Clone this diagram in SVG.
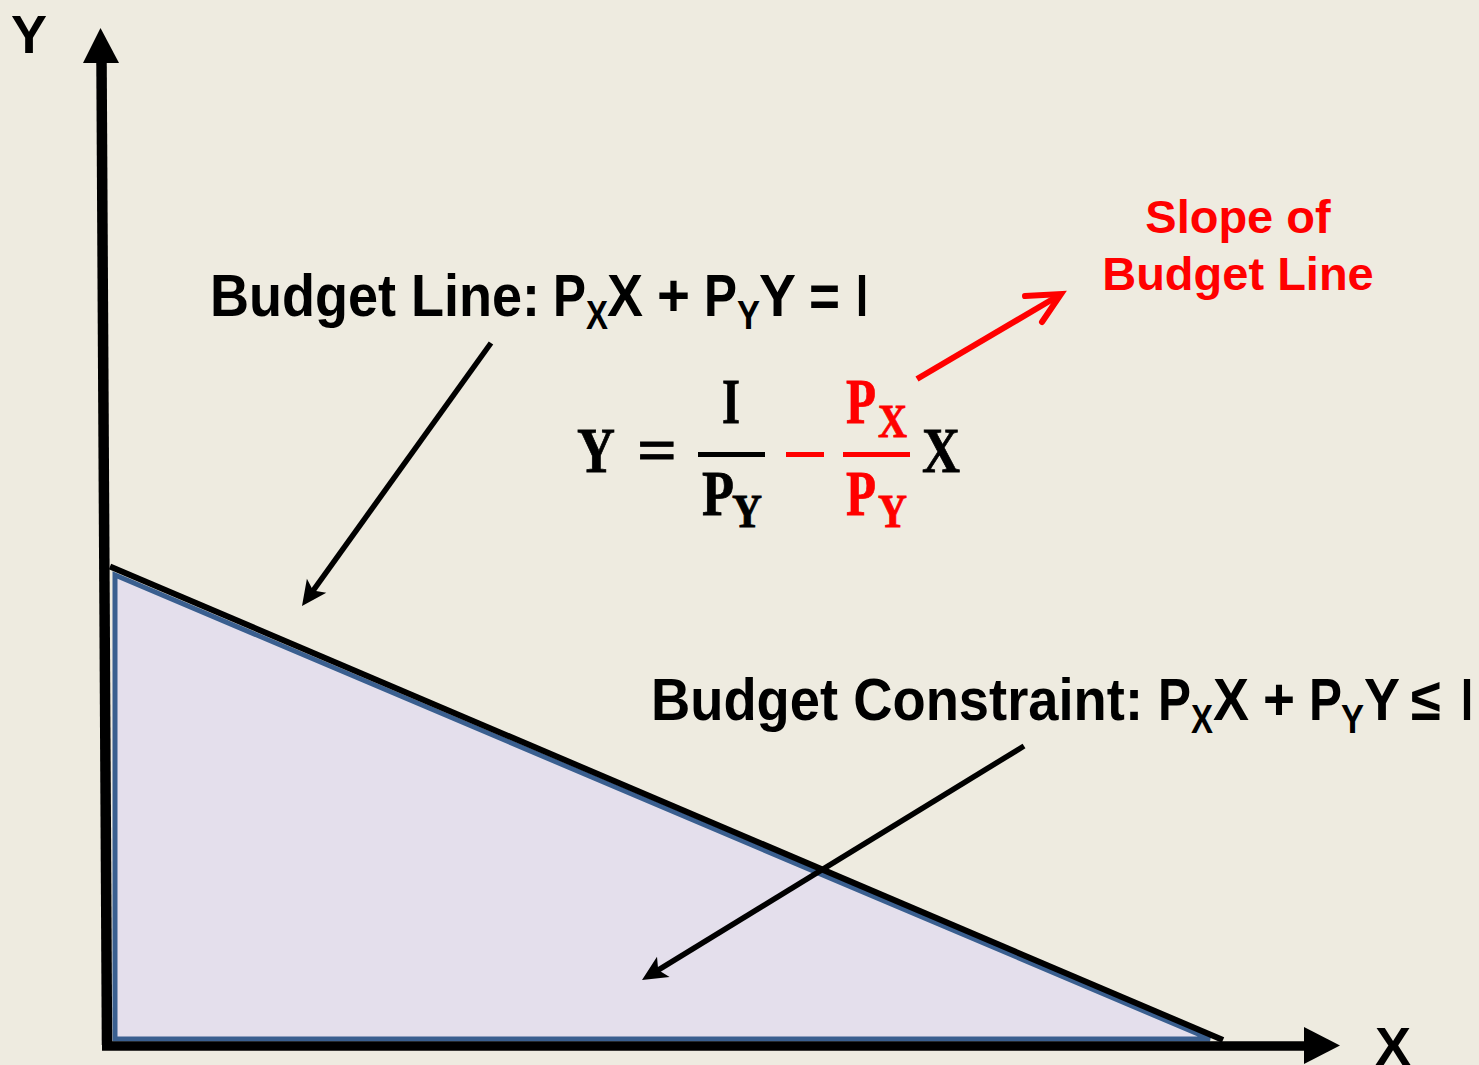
<svg xmlns="http://www.w3.org/2000/svg" width="1479" height="1065" viewBox="0 0 1479 1065">
  <defs>
    <style>
      .lbl { font-family: "Liberation Sans", Arial, sans-serif; font-weight: bold; fill: #000; }
      .lbl.red { fill: #FF0000; }
      .eq { font-family: "Liberation Serif", "Times New Roman", serif; font-weight: bold; fill: #000; stroke: #000; stroke-width: 0.8; }
      .eq.red { fill: #FF0000; stroke: #FF0000; }
      .conn { stroke: #000; stroke-width: 5.5; fill: none; }
      .head { fill: #000; }
    </style>
  </defs>
  <rect x="0" y="0" width="1479" height="1065" fill="#EEEBE0"/>

  <g id="feasible-region">
    <polygon points="115,575 115,1039 1210,1039" fill="#E4DFEC" stroke="#3A5F8F" stroke-width="5" stroke-linejoin="miter"/>
  </g>

  <g id="axes">
    <line x1="101.5" y1="60" x2="107" y2="1045" stroke="#000" stroke-width="10.5"/>
    <polygon points="100.5,28 83,63 119,63" fill="#000"/>
    <line x1="102" y1="1046" x2="1306" y2="1046" stroke="#000" stroke-width="9.5"/>
    <polygon points="1340,1045.5 1304,1027 1304,1064" fill="#000"/>
    <text class="lbl" x="11" y="53" font-size="54">Y</text>
    <text class="lbl" x="1375" y="1065" font-size="54">X</text>
  </g>

  <g id="budget-line">
    <line x1="110" y1="566.5" x2="1223" y2="1040" stroke="#000" stroke-width="6"/>
  </g>

  <g id="connectors">
    <line class="conn" x1="491" y1="343" x2="310.8" y2="593.8"/>
    <polygon class="head" points="302,606 306.9,578.7 313.1,590.6 326.3,592.7"/>
    <line class="conn" x1="1024" y1="746" x2="654.8" y2="972.2"/>
    <polygon class="head" points="642,980 657,956.7 658.2,970.1 669.6,977.1"/>
    <line x1="917" y1="379" x2="1058" y2="296" stroke="#FF0000" stroke-width="6" stroke-linecap="butt"/>
    <path d="M1025,296 L1061,294 L1042,322" fill="none" stroke="#FF0000" stroke-width="6" stroke-linecap="round" stroke-linejoin="miter"/>
  </g>

  <g id="budget-line-label">
    <text class="lbl" font-size="60" x="210" y="316" textLength="330" lengthAdjust="spacingAndGlyphs">Budget Line:</text>
    <text class="lbl" font-size="60" x="553" y="316" textLength="33" lengthAdjust="spacingAndGlyphs">P</text>
    <text class="lbl" font-size="40" x="586" y="329" textLength="22" lengthAdjust="spacingAndGlyphs">X</text>
    <text class="lbl" font-size="60" x="607" y="316" textLength="36" lengthAdjust="spacingAndGlyphs">X</text>
    <text class="lbl" font-size="60" x="657" y="316" textLength="33" lengthAdjust="spacingAndGlyphs">+</text>
    <text class="lbl" font-size="60" x="704" y="316" textLength="33" lengthAdjust="spacingAndGlyphs">P</text>
    <text class="lbl" font-size="40" x="737" y="329" textLength="23" lengthAdjust="spacingAndGlyphs">Y</text>
    <text class="lbl" font-size="60" x="759" y="316" textLength="37" lengthAdjust="spacingAndGlyphs">Y</text>
    <text class="lbl" font-size="60" x="809" y="316" textLength="31" lengthAdjust="spacingAndGlyphs">=</text>
    <text class="lbl" font-size="60" x="856" y="316" textLength="12" lengthAdjust="spacingAndGlyphs">I</text>
  </g>

  <g id="budget-constraint-label">
    <text class="lbl" font-size="60" x="651" y="720" textLength="492" lengthAdjust="spacingAndGlyphs">Budget Constraint:</text>
    <text class="lbl" font-size="60" x="1158" y="720" textLength="33" lengthAdjust="spacingAndGlyphs">P</text>
    <text class="lbl" font-size="40" x="1191" y="733" textLength="22" lengthAdjust="spacingAndGlyphs">X</text>
    <text class="lbl" font-size="60" x="1213" y="720" textLength="36" lengthAdjust="spacingAndGlyphs">X</text>
    <text class="lbl" font-size="60" x="1263" y="720" textLength="32" lengthAdjust="spacingAndGlyphs">+</text>
    <text class="lbl" font-size="60" x="1309" y="720" textLength="33" lengthAdjust="spacingAndGlyphs">P</text>
    <text class="lbl" font-size="40" x="1341" y="733" textLength="23" lengthAdjust="spacingAndGlyphs">Y</text>
    <text class="lbl" font-size="60" x="1364" y="720" textLength="36" lengthAdjust="spacingAndGlyphs">Y</text>
    <text class="lbl" font-size="60" x="1411" y="720" textLength="30" lengthAdjust="spacingAndGlyphs">≤</text>
    <text class="lbl" font-size="60" x="1461" y="720" textLength="12" lengthAdjust="spacingAndGlyphs">I</text>
  </g>

  <g id="slope-label">
    <text class="lbl red" font-size="47" x="1238" y="233" text-anchor="middle">Slope of</text>
    <text class="lbl red" font-size="47" x="1238" y="290" text-anchor="middle">Budget Line</text>
  </g>

  <g id="equation">
    <text class="eq" font-size="64" x="577" y="472" textLength="38" lengthAdjust="spacingAndGlyphs">Y</text>
    <text class="eq" font-size="64" x="637" y="472" textLength="40" lengthAdjust="spacingAndGlyphs">=</text>
    <text class="eq" font-size="64" x="722" y="423" textLength="18" lengthAdjust="spacingAndGlyphs">I</text>
    <line x1="698" y1="454.5" x2="765" y2="454.5" stroke="#000" stroke-width="5"/>
    <text class="eq" font-size="64" x="702" y="515" textLength="32" lengthAdjust="spacingAndGlyphs">P</text>
    <text class="eq" font-size="46" x="732" y="527" textLength="30" lengthAdjust="spacingAndGlyphs">Y</text>
    <line x1="786" y1="454.5" x2="824" y2="454.5" stroke="#FF0000" stroke-width="5"/>
    <line x1="843" y1="454.5" x2="910" y2="454.5" stroke="#FF0000" stroke-width="5"/>
    <text class="eq red" font-size="64" x="846" y="423" textLength="30" lengthAdjust="spacingAndGlyphs">P</text>
    <text class="eq red" font-size="46" x="878" y="437" textLength="29" lengthAdjust="spacingAndGlyphs">X</text>
    <text class="eq red" font-size="64" x="846" y="515" textLength="30" lengthAdjust="spacingAndGlyphs">P</text>
    <text class="eq red" font-size="46" x="878" y="527" textLength="29" lengthAdjust="spacingAndGlyphs">Y</text>
    <text class="eq" font-size="64" x="922" y="472" textLength="38" lengthAdjust="spacingAndGlyphs">X</text>
  </g>
</svg>
